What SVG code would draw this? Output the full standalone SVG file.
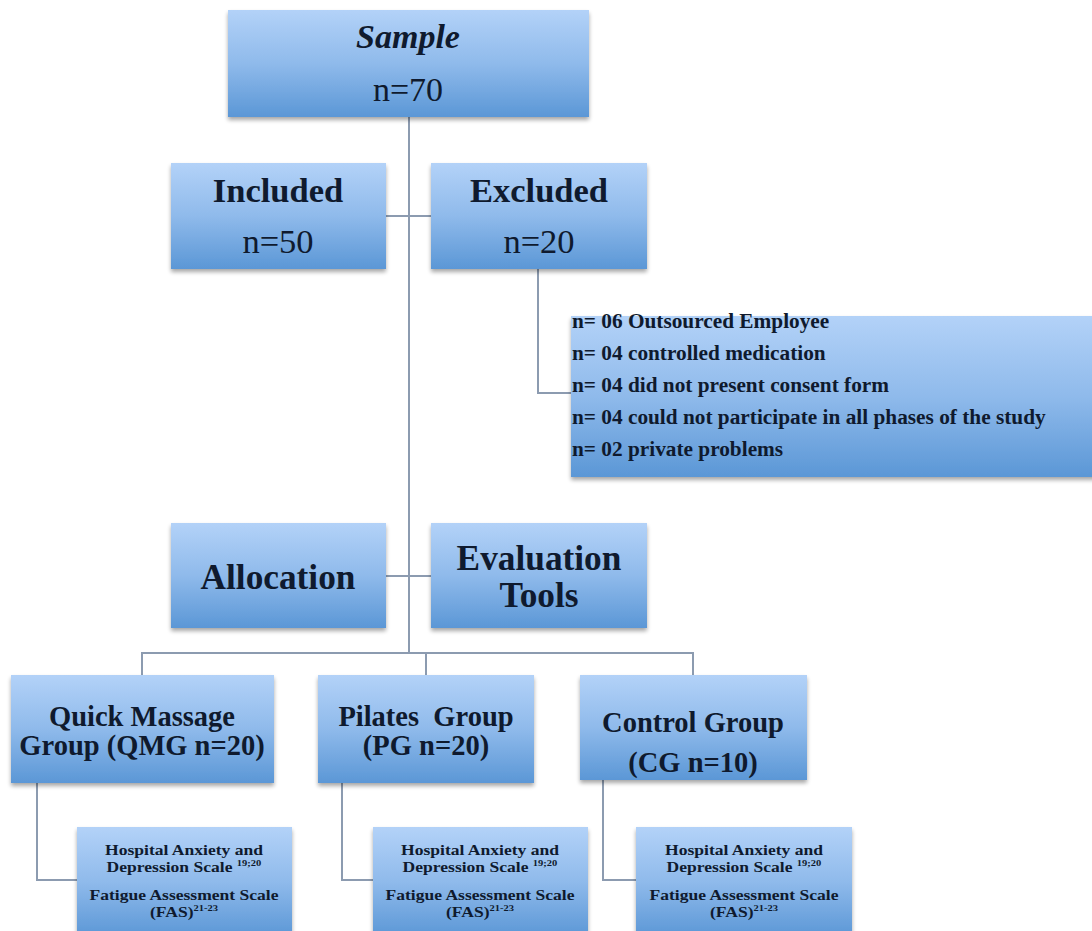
<svg xmlns="http://www.w3.org/2000/svg" width="1092" height="931" viewBox="0 0 1092 931">
<defs>
<linearGradient id="g" x1="0" y1="0" x2="0" y2="1">
<stop offset="0" stop-color="#b3d2f8"/>
<stop offset="0.5" stop-color="#8fbaeb"/>
<stop offset="1" stop-color="#5b97d6"/>
</linearGradient>
<filter id="sh" x="-5%" y="-5%" width="110%" height="120%">
<feGaussianBlur in="SourceAlpha" stdDeviation="2"/>
<feOffset dx="0" dy="3" result="b"/>
<feComponentTransfer><feFuncA type="linear" slope="0.35"/></feComponentTransfer>
<feMerge><feMergeNode/><feMergeNode in="SourceGraphic"/></feMerge>
</filter>
</defs>
<style>
.box{fill:url(#g);filter:url(#sh)}
.t{font-family:"Liberation Serif",serif;fill:#0f1a2e;text-anchor:middle}
.b{font-weight:bold}
.l{font-family:"Liberation Serif",serif;fill:#0f1a2e;font-weight:bold;font-size:21.3px}
.c{fill:none;stroke:#8c9bb0;stroke-width:2}
.g{font-size:28.5px;font-weight:bold}
.e{font-size:15px;font-weight:bold}
.s{font-size:9px}
</style>
<rect width="1092" height="931" fill="#ffffff"/>
<g id="connectors">
<path class="c" d="M409 117V653"/>
<path class="c" d="M386 216H431"/>
<path class="c" d="M386 576H431"/>
<path class="c" d="M538 269V393H571"/>
<path class="c" d="M142 675V653H693V675"/>
<path class="c" d="M426 653V675"/>
<path class="c" d="M37 783V880H77"/>
<path class="c" d="M342 783V880H373"/>
<path class="c" d="M603 780V880H636"/>
</g>
<g id="sample">
<rect class="box" x="228" y="10" width="361" height="107"/>
<text class="t b" x="408" y="48" font-size="34" font-style="italic">Sample</text>
<text class="t" x="408" y="101" font-size="34">n=70</text>
</g>
<g id="included">
<rect class="box" x="171" y="163" width="215" height="106"/>
<text class="t b" x="278" y="202" font-size="34.5">Included</text>
<text class="t" x="278" y="253" font-size="34.5">n=50</text>
</g>
<g id="excluded">
<rect class="box" x="431" y="163" width="216" height="106"/>
<text class="t b" x="539" y="202" font-size="34.5">Excluded</text>
<text class="t" x="539" y="253" font-size="34.5">n=20</text>
</g>
<g id="exclusion-reasons">
<rect class="box" x="571" y="316" width="530" height="161"/>
<text class="l" x="572" y="328">n= 06 Outsourced Employee</text>
<text class="l" x="572" y="360">n= 04 controlled medication</text>
<text class="l" x="572" y="392">n= 04 did not present consent form</text>
<text class="l" x="572" y="424">n= 04 could not participate in all phases of the study</text>
<text class="l" x="572" y="456">n= 02 private problems</text>
</g>
<g id="allocation">
<rect class="box" x="171" y="523" width="215" height="105"/>
<text class="t b" x="278" y="589" font-size="35.3">Allocation</text>
</g>
<g id="evaluation-tools">
<rect class="box" x="431" y="523" width="216" height="105"/>
<text class="t b" x="539" y="570" font-size="35.3">Evaluation</text>
<text class="t b" x="539" y="607" font-size="35.3">Tools</text>
</g>
<g id="qmg">
<rect class="box" x="11" y="675" width="263" height="108"/>
<text class="t g" x="142" y="726">Quick Massage</text>
<text class="t g" x="142" y="755">Group (QMG n=20)</text>
</g>
<g id="pg">
<rect class="box" x="318" y="675" width="216" height="108"/>
<text class="t g" x="426" y="726" xml:space="preserve">Pilates  Group</text>
<text class="t g" x="426" y="755">(PG n=20)</text>
</g>
<g id="cg">
<rect class="box" x="580" y="675" width="227" height="105"/>
<text class="t g" x="693" y="732">Control Group</text>
<text class="t g" x="693" y="772">(CG n=10)</text>
</g>
<g id="qmg-tools">
<rect class="box" x="77" y="827" width="215" height="110"/>
<g transform="translate(184,0) scale(1.17,1)">
<text class="t e" x="0" y="855">Hospital Anxiety and</text>
<text class="t e" x="0" y="872">Depression Scale <tspan class="s" dy="-6">19;20</tspan></text>
<text class="t e" x="0" y="900">Fatigue Assessment Scale</text>
<text class="t e" x="0" y="917">(FAS)<tspan class="s" dy="-6">21-23</tspan></text>
</g>
</g>
<g id="pg-tools">
<rect class="box" x="373" y="827" width="215" height="110"/>
<g transform="translate(480,0) scale(1.17,1)">
<text class="t e" x="0" y="855">Hospital Anxiety and</text>
<text class="t e" x="0" y="872">Depression Scale <tspan class="s" dy="-6">19;20</tspan></text>
<text class="t e" x="0" y="900">Fatigue Assessment Scale</text>
<text class="t e" x="0" y="917">(FAS)<tspan class="s" dy="-6">21-23</tspan></text>
</g>
</g>
<g id="cg-tools">
<rect class="box" x="636" y="827" width="216" height="110"/>
<g transform="translate(744,0) scale(1.17,1)">
<text class="t e" x="0" y="855">Hospital Anxiety and</text>
<text class="t e" x="0" y="872">Depression Scale <tspan class="s" dy="-6">19;20</tspan></text>
<text class="t e" x="0" y="900">Fatigue Assessment Scale</text>
<text class="t e" x="0" y="917">(FAS)<tspan class="s" dy="-6">21-23</tspan></text>
</g>
</g>
</svg>
